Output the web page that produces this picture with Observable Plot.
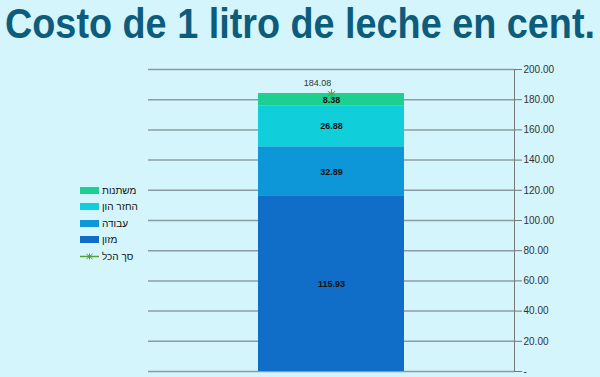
<!DOCTYPE html>
<html><head><meta charset="utf-8">
<script src="https://cdn.jsdelivr.net/npm/d3@7"></script>
<script src="https://cdn.jsdelivr.net/npm/@observablehq/plot@0.6"></script>
<style>
body{margin:0;background:#d4f5fb;}
#wrap{position:relative;width:600px;height:377px;overflow:hidden;background:#d4f5fb;font-family:"Liberation Sans",Arial,sans-serif;}
#title{position:absolute;left:5px;top:0px;font-size:42px;line-height:normal;font-weight:bold;color:#0d5c7c;white-space:nowrap;transform-origin:0 0;}
#chart{position:absolute;left:0;top:0;}
#legend{position:absolute;left:80px;top:182px;font-size:10px;color:#111;}
.li{height:16.5px;display:flex;align-items:center;}
.sw{width:19px;height:7px;margin-right:3px;}
</style></head>
<body><div id="wrap"><div id="chart"></div><div id="title">Costo de 1 litro de leche en cent.</div><div id="legend"></div></div>
<script>
const categories = ["מזון", "עבודה", "החזר הון", "משתנות"];
const values = [115.93, 32.89, 26.88, 8.38];
const colors = ["#106ec8", "#0d97d8", "#10cfdb", "#1dcf91"];
const totalLabel = "סך הכל";
const total = 184.08;
const yTicks = [0, 20, 40, 60, 80, 100, 120, 140, 160, 180, 200];
const column = "c";

const rows = categories.map((c, i) => ({x: column, cat: c, v: values[i]}));

const plot = Plot.plot({
  width: 600, height: 377,
  marginTop: 69, marginBottom: 6, marginLeft: 148, marginRight: 86,
  style: {background: "transparent", fontFamily: "Liberation Sans, Arial, sans-serif"},
  x: {domain: [column], padding: 0.4286, axis: null},
  y: {domain: [0, 200], axis: null},
  color: {domain: categories, range: colors},
  marks: [
    Plot.ruleY(yTicks, {stroke: "#8a9ca2", strokeWidth: 1.5}),
    Plot.barY(rows, Plot.stackY({x: "x", y: "v", fill: "cat", order: categories})),
    Plot.text(rows, Plot.stackY({x: "x", y: "v", z: "cat", order: categories, text: d => d.v.toFixed(2), fontSize: 9, fontWeight: "bold", fill: "#111"})),
    Plot.dot([{x: column, v: total}], {x: "x", y: "v", symbol: "asterisk", r: 4, stroke: "#5b9e3a", strokeWidth: 1}),
    Plot.text([{x: column, v: total}], {x: "x", y: "v", text: d => d.v.toFixed(2), dx: -14, dy: -10, fontSize: 9, fill: "#333"}),
    Plot.axisY({anchor: "right", label: null, ticks: yTicks, tickFormat: d => d === 0 ? "-" : d.toFixed(2), tickSize: 7, tickPadding: 2, fontSize: 10, color: "#333", stroke: "#777"}),
    Plot.frame({anchor: "right", stroke: "#777"})
  ]
});
document.getElementById("chart").appendChild(plot);

// legend
const leg = document.getElementById("legend");
const items = categories.map((c, i) => ({label: c, color: colors[i]})).reverse();
items.forEach(it => {
  const d = document.createElement("div"); d.className = "li";
  d.innerHTML = `<span class="sw" style="background:${it.color}"></span><span dir="rtl">${it.label}</span>`;
  leg.appendChild(d);
});
const dl = document.createElement("div"); dl.className = "li";
dl.innerHTML = `<svg width="19" height="9" style="margin-right:3px"><line x1="0" y1="4.5" x2="19" y2="4.5" stroke="#5b9e3a" stroke-width="1.5"/><path d="M6.5,2L12.5,7M6.5,7L12.5,2M9.5,1.5V7.5" stroke="#5b9e3a" stroke-width="1"/></svg><span dir="rtl">${totalLabel}</span>`;
leg.appendChild(dl);

// fit title width
const t = document.getElementById("title");
const w = t.getBoundingClientRect().width;
t.style.transform = `scaleX(${590 / w})`;
</script></body></html>
